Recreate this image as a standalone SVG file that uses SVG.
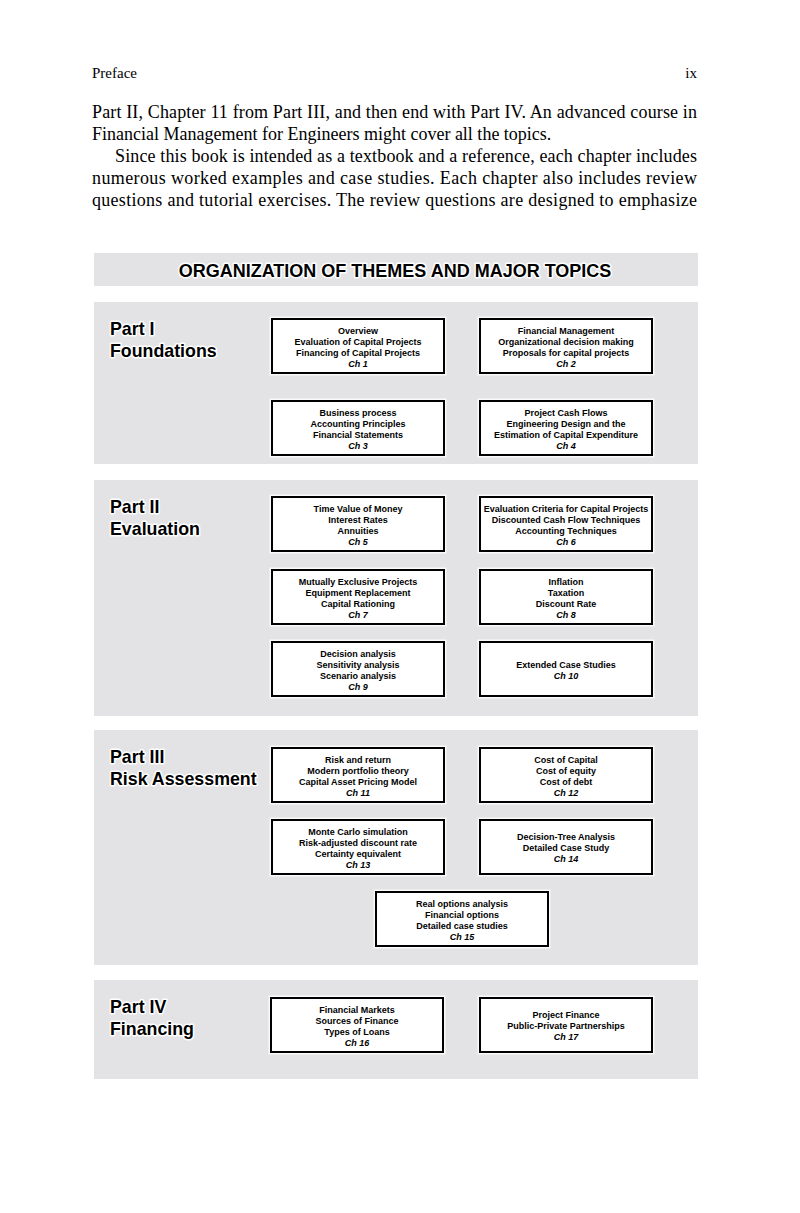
<svg xmlns="http://www.w3.org/2000/svg" width="800" height="1213" viewBox="0 0 800 1213">
<style>
.page{fill:#ffffff}
.panel{fill:#e3e3e5}
.body{font-family:"Liberation Serif","Times New Roman",serif;font-size:18px;fill:#000}
.head{font-family:"Liberation Serif","Times New Roman",serif;font-size:15px;fill:#000}
.title{font-family:"Liberation Sans",Arial,sans-serif;font-size:18px;font-weight:bold;fill:#000;text-anchor:middle;stroke:#fff;stroke-width:3;stroke-linejoin:round;paint-order:stroke}
.part{font-family:"Liberation Sans",Arial,sans-serif;font-size:17.8px;font-weight:bold;fill:#000;stroke:#fff;stroke-width:3;stroke-linejoin:round;paint-order:stroke}
.glow{fill:none;stroke:#fafafa;stroke-width:5}
.box{fill:#ffffff;stroke:#000;stroke-width:2}
.bt{font-family:"Liberation Sans",Arial,sans-serif;font-size:9px;font-weight:bold;fill:#000;text-anchor:middle}
.ch{font-style:italic}
</style>
<rect class="page" x="0" y="0" width="800" height="1213"/>

<g id="page-text">
<text class="head" x="92" y="78">Preface</text>
<text class="head" x="697" y="78" text-anchor="end">ix</text>
<text class="body" x="92" y="118" textLength="605" lengthAdjust="spacing">Part II, Chapter 11 from Part III, and then end with Part IV. An advanced course in</text>
<text class="body" x="92" y="140">Financial Management for Engineers might cover all the topics.</text>
<text class="body" x="115" y="162" textLength="582" lengthAdjust="spacing">Since this book is intended as a textbook and a reference, each chapter includes</text>
<text class="body" x="92" y="184" textLength="605" lengthAdjust="spacing">numerous worked examples and case studies. Each chapter also includes review</text>
<text class="body" x="92" y="206" textLength="605" lengthAdjust="spacing">questions and tutorial exercises. The review questions are designed to emphasize</text>
</g>

<g id="title">
<rect class="panel" x="94" y="253" width="604" height="33"/>
<text class="title" x="395" y="276.5">ORGANIZATION OF THEMES AND MAJOR TOPICS</text>
</g>

<g id="part1">
<rect class="panel" x="94" y="302" width="604" height="162"/>
<text class="part" x="110" y="334.5">Part I</text>
<text class="part" x="110" y="356.5">Foundations</text>
</g>
<g id="part2">
<rect class="panel" x="94" y="480" width="604" height="236"/>
<text class="part" x="110" y="512.5">Part II</text>
<text class="part" x="110" y="534.5">Evaluation</text>
</g>
<g id="part3">
<rect class="panel" x="94" y="730" width="604" height="235"/>
<text class="part" x="110" y="762.5">Part III</text>
<text class="part" x="110" y="784.5">Risk Assessment</text>
</g>
<g id="part4">
<rect class="panel" x="94" y="980" width="604" height="99"/>
<text class="part" x="110" y="1012.5">Part IV</text>
<text class="part" x="110" y="1034.5">Financing</text>
</g>

<g id="connectors"></g>

<g id="ch1">
<rect class="glow" x="272" y="319" width="172" height="54"/><rect class="box" x="272" y="319" width="172" height="54"/>
<text class="bt" x="358" y="334">Overview</text>
<text class="bt" x="358" y="345">Evaluation of Capital Projects</text>
<text class="bt" x="358" y="356">Financing of Capital Projects</text>
<text class="bt ch" x="358" y="367">Ch 1</text>
</g>
<g id="ch2">
<rect class="glow" x="480" y="319" width="172" height="54"/><rect class="box" x="480" y="319" width="172" height="54"/>
<text class="bt" x="566" y="334">Financial Management</text>
<text class="bt" x="566" y="345">Organizational decision making</text>
<text class="bt" x="566" y="356">Proposals for capital projects</text>
<text class="bt ch" x="566" y="367">Ch 2</text>
</g>
<g id="ch3">
<rect class="glow" x="272" y="401" width="172" height="54"/><rect class="box" x="272" y="401" width="172" height="54"/>
<text class="bt" x="358" y="416">Business process</text>
<text class="bt" x="358" y="427">Accounting Principles</text>
<text class="bt" x="358" y="438">Financial Statements</text>
<text class="bt ch" x="358" y="449">Ch 3</text>
</g>
<g id="ch4">
<rect class="glow" x="480" y="401" width="172" height="54"/><rect class="box" x="480" y="401" width="172" height="54"/>
<text class="bt" x="566" y="416">Project Cash Flows</text>
<text class="bt" x="566" y="427">Engineering Design and the</text>
<text class="bt" x="566" y="438">Estimation of Capital Expenditure</text>
<text class="bt ch" x="566" y="449">Ch 4</text>
</g>

<g id="ch5">
<rect class="glow" x="272" y="497" width="172" height="54"/><rect class="box" x="272" y="497" width="172" height="54"/>
<text class="bt" x="358" y="512">Time Value of Money</text>
<text class="bt" x="358" y="523">Interest Rates</text>
<text class="bt" x="358" y="534">Annuities</text>
<text class="bt ch" x="358" y="545">Ch 5</text>
</g>
<g id="ch6">
<rect class="glow" x="480" y="497" width="172" height="54"/><rect class="box" x="480" y="497" width="172" height="54"/>
<text class="bt" x="566" y="512">Evaluation Criteria for Capital Projects</text>
<text class="bt" x="566" y="523">Discounted Cash Flow Techniques</text>
<text class="bt" x="566" y="534">Accounting Techniques</text>
<text class="bt ch" x="566" y="545">Ch 6</text>
</g>
<g id="ch7">
<rect class="glow" x="272" y="570" width="172" height="54"/><rect class="box" x="272" y="570" width="172" height="54"/>
<text class="bt" x="358" y="585">Mutually Exclusive Projects</text>
<text class="bt" x="358" y="596">Equipment Replacement</text>
<text class="bt" x="358" y="607">Capital Rationing</text>
<text class="bt ch" x="358" y="618">Ch 7</text>
</g>
<g id="ch8">
<rect class="glow" x="480" y="570" width="172" height="54"/><rect class="box" x="480" y="570" width="172" height="54"/>
<text class="bt" x="566" y="585">Inflation</text>
<text class="bt" x="566" y="596">Taxation</text>
<text class="bt" x="566" y="607">Discount Rate</text>
<text class="bt ch" x="566" y="618">Ch 8</text>
</g>
<g id="ch9">
<rect class="glow" x="272" y="642" width="172" height="54"/><rect class="box" x="272" y="642" width="172" height="54"/>
<text class="bt" x="358" y="657">Decision analysis</text>
<text class="bt" x="358" y="668">Sensitivity analysis</text>
<text class="bt" x="358" y="679">Scenario analysis</text>
<text class="bt ch" x="358" y="690">Ch 9</text>
</g>
<g id="ch10">
<rect class="glow" x="480" y="642" width="172" height="54"/><rect class="box" x="480" y="642" width="172" height="54"/>
<text class="bt" x="566" y="667.5">Extended Case Studies</text>
<text class="bt ch" x="566" y="678.5">Ch 10</text>
</g>

<g id="ch11">
<rect class="glow" x="272" y="748" width="172" height="54"/><rect class="box" x="272" y="748" width="172" height="54"/>
<text class="bt" x="358" y="763">Risk and return</text>
<text class="bt" x="358" y="774">Modern portfolio theory</text>
<text class="bt" x="358" y="785">Capital Asset Pricing Model</text>
<text class="bt ch" x="358" y="796">Ch 11</text>
</g>
<g id="ch12">
<rect class="glow" x="480" y="748" width="172" height="54"/><rect class="box" x="480" y="748" width="172" height="54"/>
<text class="bt" x="566" y="763">Cost of Capital</text>
<text class="bt" x="566" y="774">Cost of equity</text>
<text class="bt" x="566" y="785">Cost of debt</text>
<text class="bt ch" x="566" y="796">Ch 12</text>
</g>
<g id="ch13">
<rect class="glow" x="272" y="820" width="172" height="54"/><rect class="box" x="272" y="820" width="172" height="54"/>
<text class="bt" x="358" y="835">Monte Carlo simulation</text>
<text class="bt" x="358" y="846">Risk-adjusted discount rate</text>
<text class="bt" x="358" y="857">Certainty equivalent</text>
<text class="bt ch" x="358" y="868">Ch 13</text>
</g>
<g id="ch14">
<rect class="glow" x="480" y="820" width="172" height="54"/><rect class="box" x="480" y="820" width="172" height="54"/>
<text class="bt" x="566" y="840">Decision-Tree Analysis</text>
<text class="bt" x="566" y="851">Detailed Case Study</text>
<text class="bt ch" x="566" y="862">Ch 14</text>
</g>
<g id="ch15">
<rect class="glow" x="376" y="892" width="172" height="54"/><rect class="box" x="376" y="892" width="172" height="54"/>
<text class="bt" x="462" y="907">Real options analysis</text>
<text class="bt" x="462" y="918">Financial options</text>
<text class="bt" x="462" y="929">Detailed case studies</text>
<text class="bt ch" x="462" y="940">Ch 15</text>
</g>

<g id="ch16">
<rect class="glow" x="271" y="998" width="172" height="54"/><rect class="box" x="271" y="998" width="172" height="54"/>
<text class="bt" x="357" y="1013">Financial Markets</text>
<text class="bt" x="357" y="1024">Sources of Finance</text>
<text class="bt" x="357" y="1035">Types of Loans</text>
<text class="bt ch" x="357" y="1046">Ch 16</text>
</g>
<g id="ch17">
<rect class="glow" x="480" y="998" width="172" height="54"/><rect class="box" x="480" y="998" width="172" height="54"/>
<text class="bt" x="566" y="1018">Project Finance</text>
<text class="bt" x="566" y="1029">Public-Private Partnerships</text>
<text class="bt ch" x="566" y="1040">Ch 17</text>
</g>
</svg>
